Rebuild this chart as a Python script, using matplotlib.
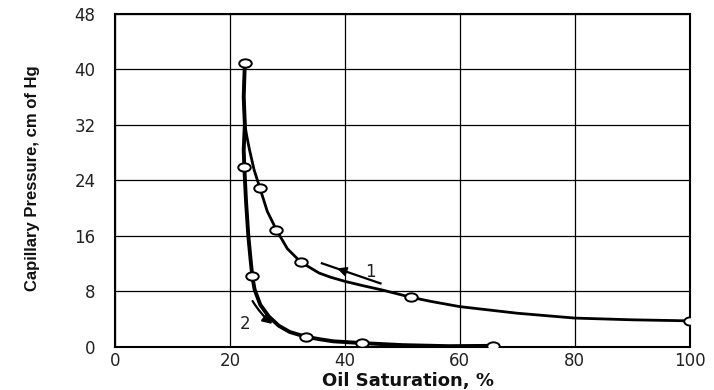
import matplotlib
matplotlib.use("Agg")
import matplotlib.pyplot as plt
from matplotlib.path import Path
from matplotlib.transforms import Affine2D

# curve 1 (upper, drainage)
curve1_x = [100, 90, 80, 70, 60, 55, 51.5, 46.5, 43, 40, 37.5, 35.5, 32.3, 30, 28.1, 26.5, 25.2, 24.2, 23.4, 22.9, 22.6, 22.4, 22.6]
curve1_y = [3.7, 3.85, 4.1, 4.8, 5.75, 6.5, 7.1, 8.15, 8.8, 9.4, 10.0, 10.6, 12.2, 14.1, 16.8, 19.5, 22.9, 25.5, 28.4, 30.5, 32, 36, 40.9]
curve1_marks = [0, 6, 12, 14, 16]

# curve 2 (lower, imbibition)
curve2_x = [22.6, 22.4, 22.6, 22.4, 22.5, 22.8, 23.2, 23.6, 23.9, 24.3, 25.3, 26.8, 28.5, 30.4, 33.2, 36, 38, 42.9, 50, 58, 65.8]
curve2_y = [40.9, 36, 32, 28.4, 25.9, 21, 16, 12.5, 10.1, 8.2, 6.0, 4.3, 3.0, 2.1, 1.4, 1.0, 0.75, 0.5, 0.2, 0.05, 0.1]
curve2_marks = [0, 4, 8, 14, 17, 20]

x_ticks = [0, 20, 40, 60, 80, 100]
y_ticks = [0, 8, 16, 24, 32, 40, 48]

plt.rcParams["font.family"] = ["DejaVu Sans"]

fig = plt.figure(figsize=(7.14, 3.9), dpi=100)
ax = fig.add_axes([0.161, 0.1115, 0.805, 0.8535])

# slightly flattened open circle marker
oval = Path.unit_circle().transformed(Affine2D().scale(1.5, 1.0))

ax.plot(curve1_x, curve1_y, color="black", lw=2.0, zorder=3)
ax.plot(curve2_x, curve2_y, color="black", lw=2.8, zorder=3)
for xs, ys, idx in [(curve1_x, curve1_y, curve1_marks), (curve2_x, curve2_y, curve2_marks)]:
    ax.plot([xs[i] for i in idx], [ys[i] for i in idx], ls="none", marker=oval,
            markersize=9, markerfacecolor="white", markeredgecolor="black",
            markeredgewidth=1.4, zorder=4)

# direction arrows and curve numbers
ax.plot([36.0, 46.2], [12.0, 9.1], color="black", lw=1.6, zorder=2)
ax.annotate("", xy=(38.2, 11.4), xytext=(40.6, 10.7),
            arrowprops=dict(arrowstyle="-|>", color="black", lw=1.2, mutation_scale=14))
ax.text(44.4, 10.8, "1", fontsize=12, ha="center", va="center", color="#222222")

ax.annotate("", xy=(27.8, 3.0), xytext=(23.7, 6.9),
            arrowprops=dict(arrowstyle="-|>", color="black", lw=1.6, mutation_scale=14,
                            connectionstyle="arc3,rad=0.1"))
ax.text(22.6, 3.3, "2", fontsize=12, ha="center", va="center", color="#222222")

ax.set_xlim(0, 100)
ax.set_ylim(0, 48)
ax.set_xticks(x_ticks)
ax.set_yticks(y_ticks)
ax.tick_params(length=0, labelsize=12, colors="#222222")
ax.tick_params(axis="x", pad=4)
ax.tick_params(axis="y", pad=14)
ax.grid(True, color="black", lw=0.9)
ax.set_axisbelow(True)
for s in ax.spines.values():
    s.set_linewidth(1.5)

fig.text(408 / 714, 1 - 381 / 390, "Oil Saturation, %", fontsize=13,
         fontweight="bold", ha="center", va="center", color="#111111")
fig.text(33 / 714, 1 - 178 / 390, "Capillary Pressure, cm of Hg", fontsize=12,
         fontweight="bold", rotation=90, ha="center", va="center", color="#111111",
         family=["Liberation Sans Narrow", "Liberation Sans", "DejaVu Sans"])

fig.savefig("out.png", dpi=100)
